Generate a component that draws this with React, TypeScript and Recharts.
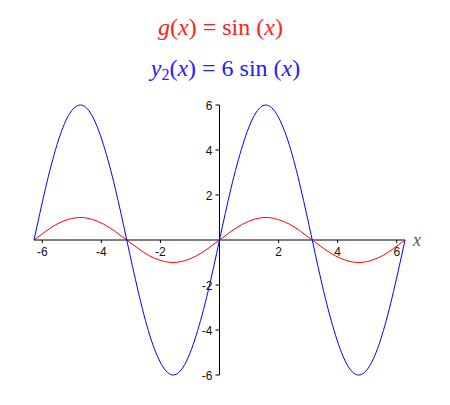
import React from 'react';
import { LineChart, Line, XAxis, YAxis, ReferenceLine } from 'recharts';

// sample x positions (roughly pi/8 apart) and the values
const xs = [
  -6.28, -5.89, -5.5, -5.11, -4.71, -4.32, -3.93, -3.53, -3.14, -2.75, -2.36, -1.96, -1.57, -1.18, -0.79, -0.39,
  0, 0.39, 0.79, 1.18, 1.57, 1.96, 2.36, 2.75, 3.14, 3.53, 3.93, 4.32, 4.71, 5.11, 5.5, 5.89, 6.28,
];
const gVals = [
  0, 0.38, 0.71, 0.92, 1, 0.92, 0.71, 0.38, 0, -0.38, -0.71, -0.92, -1, -0.92, -0.71, -0.38,
  0, 0.38, 0.71, 0.92, 1, 0.92, 0.71, 0.38, 0, -0.38, -0.71, -0.92, -1, -0.92, -0.71, -0.38, 0,
];
const y2Vals = [
  0, 2.3, 4.24, 5.54, 6, 5.54, 4.24, 2.3, 0, -2.3, -4.24, -5.54, -6, -5.54, -4.24, -2.3,
  0, 2.3, 4.24, 5.54, 6, 5.54, 4.24, 2.3, 0, -2.3, -4.24, -5.54, -6, -5.54, -4.24, -2.3, 0,
];
const xTicks = [-6, -4, -2, 2, 4, 6];
const yTicks = [-6, -4, -2, 2, 4, 6];

const data = xs.map((x, i) => ({ x, g: gVals[i], y2: y2Vals[i] }));

const W = 450;
const H = 405;
const M = { top: 105, right: 45, bottom: 29, left: 33 };
// axes cross at the origin, which sits in the middle of the plot (symmetric domains)
const PLOT_LEFT = M.left + 1;
const PLOT_BOTTOM = H - M.bottom - 1;
const ZERO_X = (PLOT_LEFT + (W - M.right)) / 2;
const ZERO_Y = (M.top + PLOT_BOTTOM) / 2;

const tickStyle = { fontFamily: '"Liberation Sans", Arial, sans-serif', fontSize: 12, fill: '#111' };

function XTick(props: any) {
  const { x, payload } = props;
  return (
    <g>
      <line x1={x} x2={x} y1={ZERO_Y} y2={ZERO_Y + 3} stroke="#000" />
      <text x={x} y={ZERO_Y + 16} textAnchor="middle" style={tickStyle}>
        {payload.value}
      </text>
    </g>
  );
}

function YTick(props: any) {
  const { y, payload } = props;
  return (
    <g>
      <line x1={ZERO_X - 4} x2={ZERO_X} y1={y} y2={y} stroke="#000" />
      <text x={ZERO_X - 7} y={y + 4.5} textAnchor="end" style={tickStyle}>
        {payload.value}
      </text>
    </g>
  );
}

const titleFont = '"Liberation Serif", "Times New Roman", serif';

export default function App() {
  return (
    <div style={{ position: 'absolute', left: 0, top: 0, width: W, height: H, background: '#fff' }}>
      <div
        style={{
          position: 'absolute', left: 0, top: 15, width: 441, textAlign: 'center',
          fontFamily: titleFont, fontSize: 24, lineHeight: '24px', color: '#ff2020', whiteSpace: 'pre',
        }}
      >
        <i>g</i>(<i>x</i>) = sin (<i>x</i>)
      </div>
      <div
        style={{
          position: 'absolute', left: 0, top: 56, width: 451, textAlign: 'center',
          fontFamily: titleFont, fontSize: 24, lineHeight: '24px', color: '#2020ff', whiteSpace: 'pre',
        }}
      >
        <i>y</i><span style={{ fontSize: 16, verticalAlign: -4 }}>2</span>(<i>x</i>) = 6 sin (<i>x</i>)
      </div>
      <div style={{ position: 'absolute', left: 0, top: 0 }}>
        <LineChart width={W} height={H} data={data} margin={M}>
          <XAxis
            dataKey="x"
            type="number"
            domain={[-6.28, 6.28]}
            ticks={xTicks}
            interval={0}
            height={1}
            axisLine={false}
            tickLine={false}
            tick={(p: any) => <XTick {...p} />}
          />
          <YAxis
            type="number"
            domain={[-6, 6]}
            ticks={yTicks}
            interval={0}
            width={1}
            axisLine={false}
            tickLine={false}
            tick={(p: any) => <YTick {...p} />}
          />
          <ReferenceLine
            y={0}
            stroke="#000"
            strokeWidth={1}
            label={{
              value: 'x', position: 'right', offset: 8, fill: '#555',
              fontFamily: titleFont, fontStyle: 'italic', fontSize: 18,
            }}
          />
          <ReferenceLine x={0} stroke="#000" strokeWidth={1} />
          <Line type="natural" dataKey="g" stroke="#ff0000" strokeWidth={1} dot={false} isAnimationActive={false} />
          <Line type="natural" dataKey="y2" stroke="#0000ff" strokeWidth={1} dot={false} isAnimationActive={false} />
        </LineChart>
      </div>
    </div>
  );
}
